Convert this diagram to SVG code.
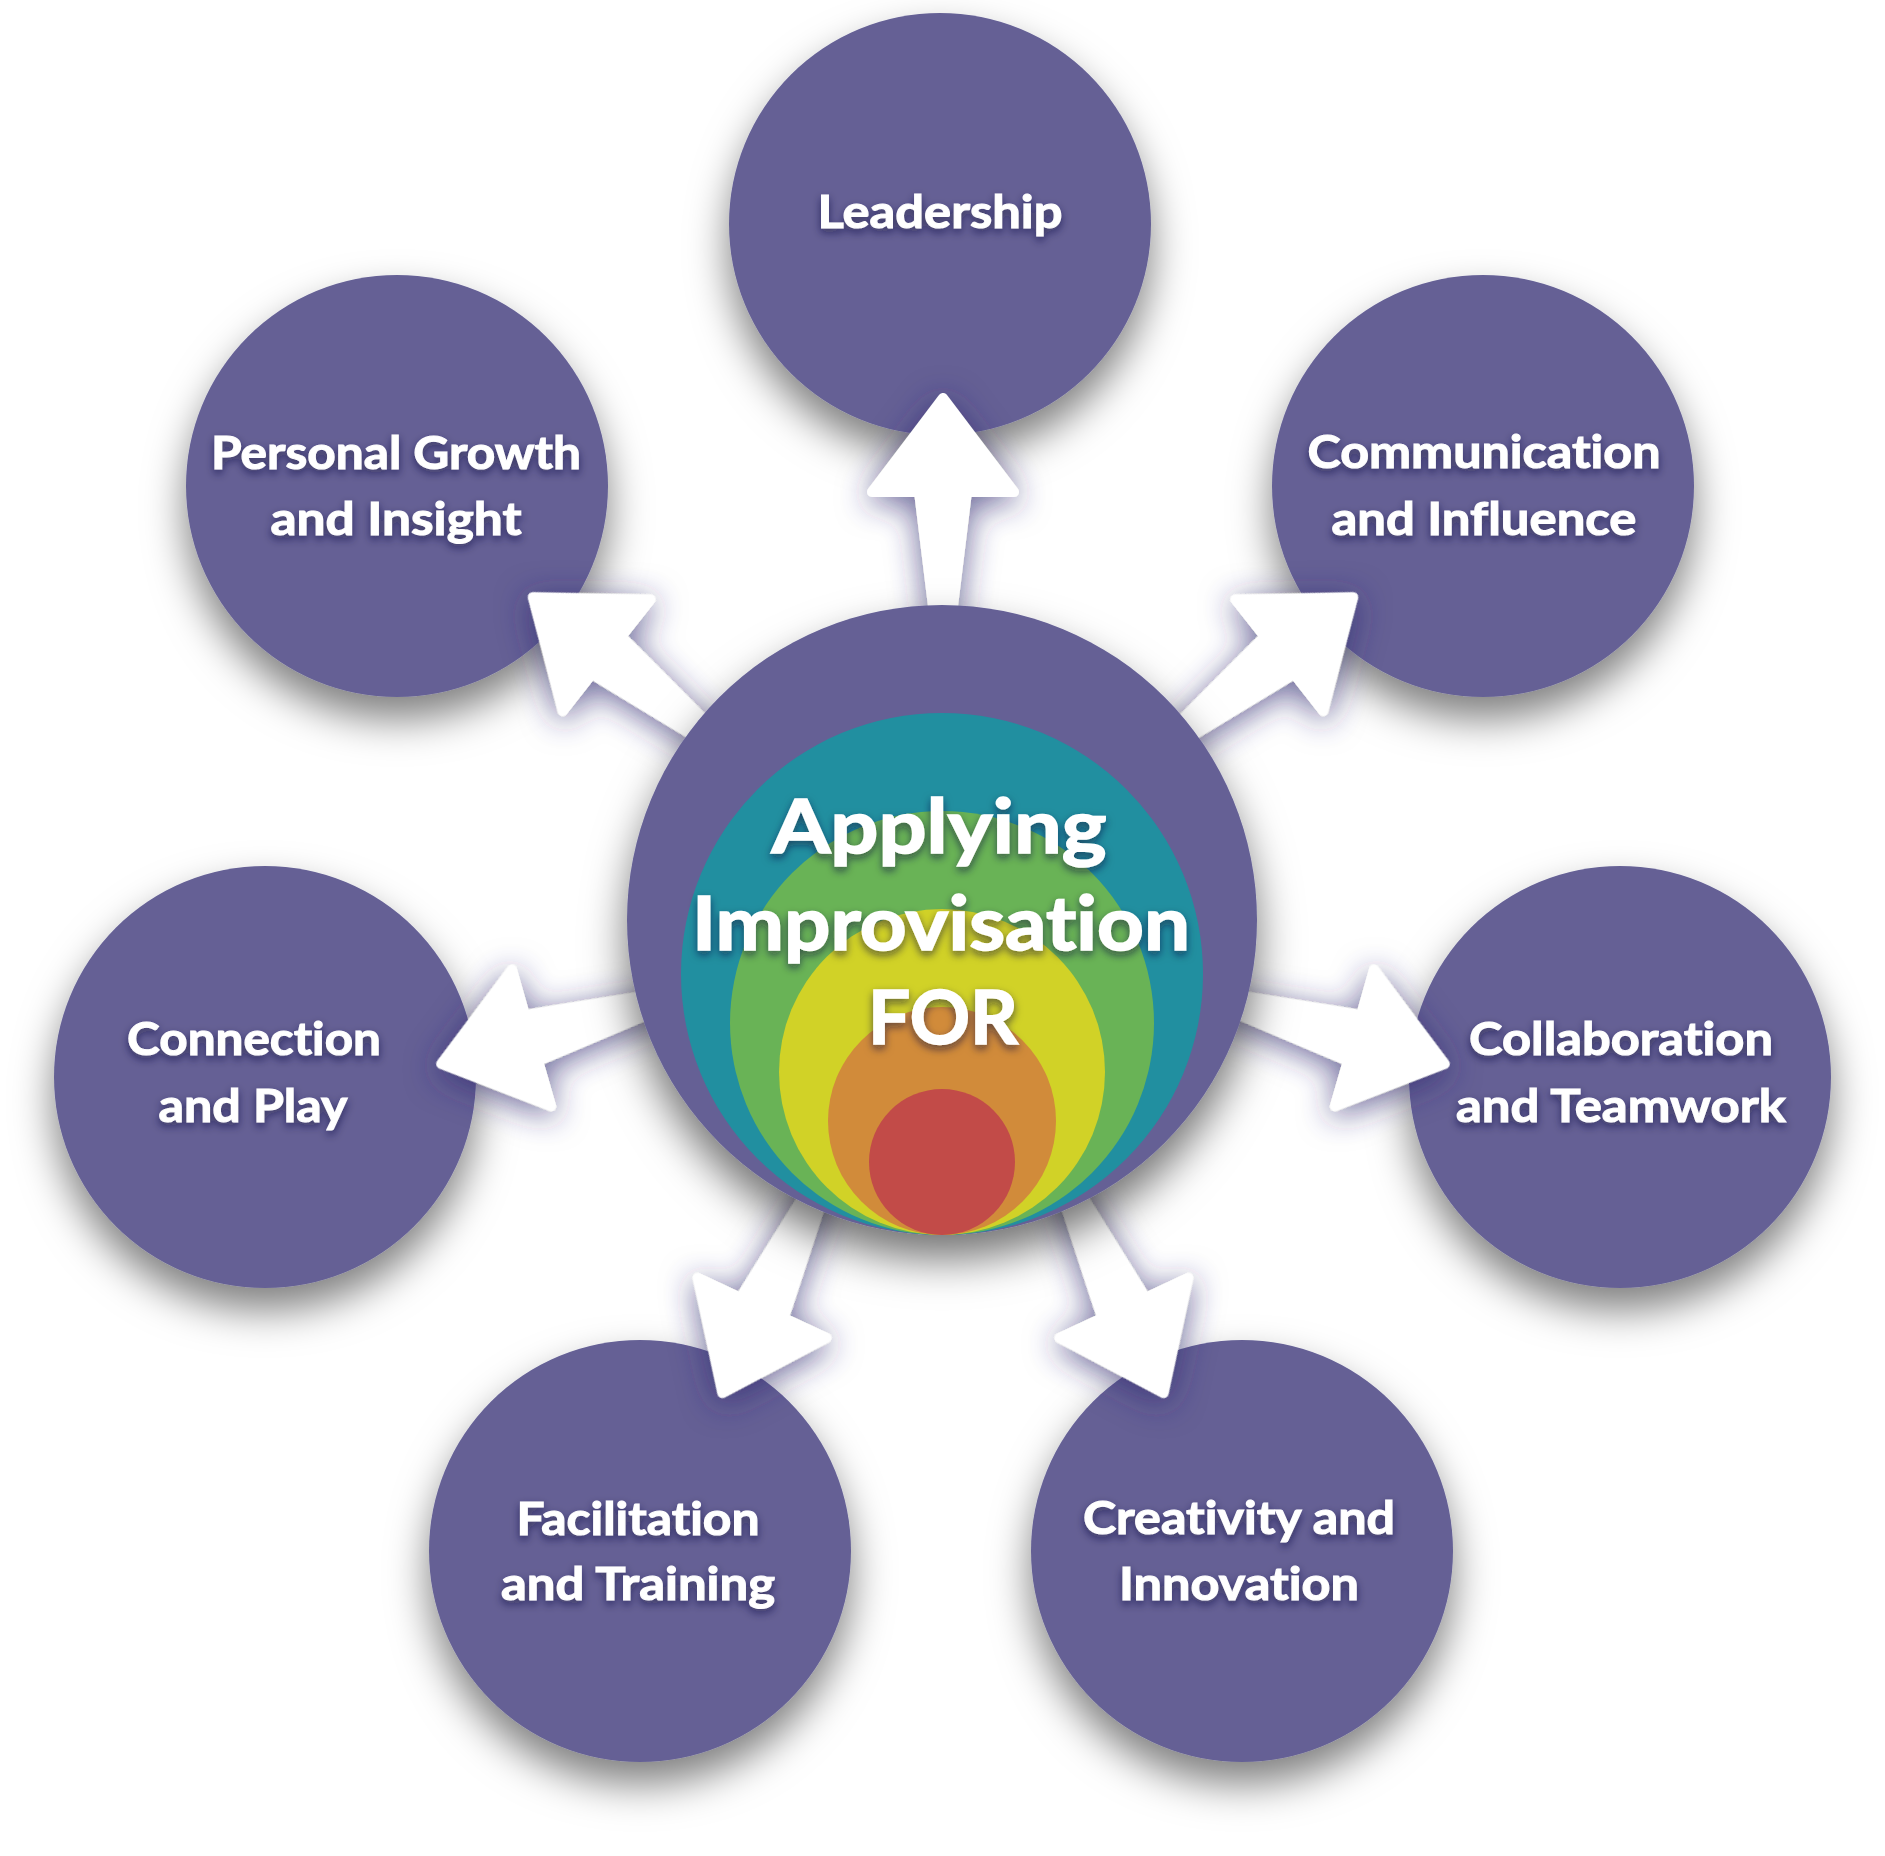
<svg xmlns="http://www.w3.org/2000/svg" width="1885" height="1856" viewBox="0 0 1885 1856">
<style>
.sat{fill:#656195;filter:url(#satShadow)}
.lbl{font-family:Lato,"Noto Sans",sans-serif;font-weight:700;font-size:46px;fill:#fff;stroke:#fff;stroke-width:1;text-anchor:middle;filter:url(#textShadow);font-variant-ligatures:none;font-feature-settings:"liga" 0,"dlig" 0,"clig" 0}
.big{font-size:75px;stroke-width:1.6}
.arrow{fill:#fff;stroke:#fff;stroke-width:10;stroke-linejoin:round}
</style>
<defs>
<filter id="satShadow" x="-40%" y="-40%" width="180%" height="190%">
<feDropShadow dx="0" dy="22" stdDeviation="20" flood-color="#000" flood-opacity="0.5"/>
</filter>
<filter id="centerShadow" x="-40%" y="-40%" width="180%" height="190%">
<feDropShadow dx="0" dy="24" stdDeviation="22" flood-color="#000" flood-opacity="0.55"/>
</filter>
<filter id="arrowShadow" x="-60%" y="-60%" width="220%" height="220%">
<feDropShadow dx="0" dy="6" stdDeviation="16" flood-color="#2e2870" flood-opacity="0.7"/>
</filter>
<filter id="textShadow" x="-10%" y="-40%" width="120%" height="190%">
<feDropShadow dx="0" dy="4" stdDeviation="4" flood-color="#15123a" flood-opacity="0.6"/>
</filter>
<path id="arw" d="M 232 0 L 428 -24 L 428 -71 L 522 0 L 428 71 L 428 24 Z"/>
</defs>
<rect width="1885" height="1856" fill="#fff"/>

<g id="node-leadership">
<circle class="sat" cx="940" cy="224" r="211"/>
<text class="lbl" x="940" y="228" textLength="245" lengthAdjust="spacingAndGlyphs">Leadership</text>
</g>
<g id="node-personal-growth">
<circle class="sat" cx="397" cy="486" r="211"/>
<text class="lbl" x="396" y="469" textLength="370" lengthAdjust="spacingAndGlyphs">Personal Growth</text>
<text class="lbl" x="396" y="535" textLength="251" lengthAdjust="spacingAndGlyphs">and Insight</text>
</g>
<g id="node-communication">
<circle class="sat" cx="1483" cy="486" r="211"/>
<text class="lbl" x="1484" y="468" textLength="353" lengthAdjust="spacingAndGlyphs">Communication</text>
<text class="lbl" x="1484" y="535" textLength="305" lengthAdjust="spacingAndGlyphs">and Influence</text>
</g>
<g id="node-connection">
<circle class="sat" cx="265" cy="1077" r="211"/>
<text class="lbl" x="254" y="1055" textLength="254" lengthAdjust="spacingAndGlyphs">Connection</text>
<text class="lbl" x="253" y="1122" textLength="189" lengthAdjust="spacingAndGlyphs">and Play</text>
</g>
<g id="node-collaboration">
<circle class="sat" cx="1620" cy="1077" r="211"/>
<text class="lbl" x="1621" y="1055" textLength="304" lengthAdjust="spacingAndGlyphs">Collaboration</text>
<text class="lbl" x="1621" y="1122" textLength="330" lengthAdjust="spacingAndGlyphs">and Teamwork</text>
</g>
<g id="node-facilitation">
<circle class="sat" cx="640" cy="1551" r="211"/>
<text class="lbl" x="638" y="1535" textLength="243" lengthAdjust="spacingAndGlyphs">Facilitation</text>
<text class="lbl" x="638" y="1600" textLength="274" lengthAdjust="spacingAndGlyphs">and Training</text>
</g>
<g id="node-creativity">
<circle class="sat" cx="1242" cy="1551" r="211"/>
<text class="lbl" x="1239" y="1534" textLength="312" lengthAdjust="spacingAndGlyphs">Creativity and</text>
<text class="lbl" x="1239" y="1600" textLength="240" lengthAdjust="spacingAndGlyphs">Innovation</text>
</g>

<g id="connectors" filter="url(#arrowShadow)">
<use href="#arw" class="arrow" transform="translate(943 920) rotate(-90)"/>
<use href="#arw" class="arrow" transform="translate(943 920) rotate(-38.2)"/>
<use href="#arw" class="arrow" transform="translate(943 920) rotate(16)"/>
<use href="#arw" class="arrow" transform="translate(943 920) rotate(65)"/>
<use href="#arw" class="arrow" transform="translate(943 920) rotate(115)"/>
<use href="#arw" class="arrow" transform="translate(943 920) rotate(164)"/>
<use href="#arw" class="arrow" transform="translate(943 920) rotate(-141.8)"/>
</g>

<g id="center">
<circle cx="942" cy="920" r="315" fill="#656195" filter="url(#centerShadow)"/>
<circle cx="942" cy="974" r="261" fill="#218fa0"/>
<circle cx="942" cy="1023" r="212" fill="#69b356"/>
<circle cx="942" cy="1072" r="163" fill="#d1d227"/>
<circle cx="942" cy="1121" r="114" fill="#d18b3a"/>
<circle cx="942" cy="1162" r="73" fill="#c24b48"/>
<text class="lbl big" x="939" y="853" textLength="335" lengthAdjust="spacingAndGlyphs">Applying</text>
<text class="lbl big" x="941" y="950" textLength="498" lengthAdjust="spacingAndGlyphs">Improvisation</text>
<text class="lbl big" x="943" y="1044" textLength="150" lengthAdjust="spacingAndGlyphs">FOR</text>
</g>
</svg>
